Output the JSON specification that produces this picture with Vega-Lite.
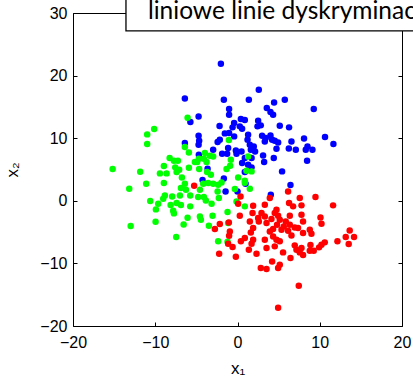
{
  "$schema": "https://vega.github.io/schema/vega-lite/v6.json",
  "width": 329,
  "height": 313,
  "autosize": {"type": "none"},
  "padding": {"left": 73, "top": 13, "right": 11, "bottom": 57},
  "config": {
    "view": {"stroke": "black", "strokeWidth": 1},
    "axis": {
      "grid": false,
      "domain": false,
      "labelFlush": false,
      "offset": -4,
      "tickColor": "black",
      "tickSize": 4,
      "tickWidth": 1,
      "labelFont": "Liberation Sans",
      "labelFontSize": 16,
      "labelColor": "black",
      "titleFont": "Liberation Sans",
      "titleFontSize": 17,
      "titleFontWeight": "normal",
      "titleColor": "black"
    }
  },
  "datasets": {
    "punkty": [
      {"x": -2.02, "y": 21.90, "k": "1"}, {"x": -6.40, "y": 16.36, "k": "1"}, {"x": -1.66, "y": 16.15, "k": "1"},
      {"x": 1.38, "y": 16.15, "k": "1"}, {"x": 2.59, "y": 17.75, "k": "1"}, {"x": 4.45, "y": 15.72, "k": "1"},
      {"x": 5.75, "y": 16.15, "k": "1"}, {"x": 3.56, "y": 14.82, "k": "1"}, {"x": 4.01, "y": 14.19, "k": "1"},
      {"x": 4.33, "y": 13.75, "k": "1"}, {"x": -1.02, "y": 14.66, "k": "1"}, {"x": -1.02, "y": 13.75, "k": "1"},
      {"x": 0.41, "y": 13.07, "k": "1"}, {"x": 0.89, "y": 12.91, "k": "1"}, {"x": -0.41, "y": 12.43, "k": "1"},
      {"x": -0.60, "y": 11.73, "k": "1"}, {"x": 0.28, "y": 11.89, "k": "1"}, {"x": 0.56, "y": 11.52, "k": "1"},
      {"x": -2.18, "y": 11.95, "k": "1"}, {"x": -4.73, "y": 13.48, "k": "1"}, {"x": -5.73, "y": 12.59, "k": "1"},
      {"x": 2.51, "y": 12.80, "k": "1"}, {"x": 2.83, "y": 12.05, "k": "1"}, {"x": 2.43, "y": 11.89, "k": "1"},
      {"x": 5.14, "y": 12.00, "k": "1"}, {"x": 6.27, "y": 11.73, "k": "1"}, {"x": 9.27, "y": 14.66, "k": "1"},
      {"x": -1.54, "y": 10.77, "k": "1"}, {"x": -1.02, "y": 10.83, "k": "1"}, {"x": -0.41, "y": 10.29, "k": "1"},
      {"x": 1.29, "y": 10.56, "k": "1"}, {"x": 1.22, "y": 9.76, "k": "1"}, {"x": -2.42, "y": 9.39, "k": "1"},
      {"x": -2.15, "y": 9.76, "k": "1"}, {"x": -4.73, "y": 10.40, "k": "1"}, {"x": -4.66, "y": 9.60, "k": "1"},
      {"x": -4.73, "y": 8.96, "k": "1"}, {"x": 2.99, "y": 10.40, "k": "1"}, {"x": 3.44, "y": 10.03, "k": "1"},
      {"x": 4.01, "y": 10.45, "k": "1"}, {"x": 4.21, "y": 9.76, "k": "1"}, {"x": 3.32, "y": 9.49, "k": "1"},
      {"x": 4.53, "y": 9.60, "k": "1"}, {"x": 4.94, "y": 9.33, "k": "1"}, {"x": 4.74, "y": 8.32, "k": "1"},
      {"x": 1.98, "y": 8.69, "k": "1"}, {"x": 1.50, "y": 8.96, "k": "1"}, {"x": 1.62, "y": 8.16, "k": "1"},
      {"x": 2.14, "y": 7.89, "k": "1"}, {"x": 0.49, "y": 7.89, "k": "1"}, {"x": -1.14, "y": 8.44, "k": "1"},
      {"x": -1.26, "y": 7.52, "k": "1"}, {"x": -1.87, "y": 7.52, "k": "1"}, {"x": -0.20, "y": 8.05, "k": "1"},
      {"x": -0.12, "y": 7.52, "k": "1"}, {"x": -2.96, "y": 8.16, "k": "1"}, {"x": -4.70, "y": 7.36, "k": "1"},
      {"x": 0.89, "y": 6.84, "k": "1"}, {"x": 1.71, "y": 6.84, "k": "1"}, {"x": 3.11, "y": 7.25, "k": "1"},
      {"x": 3.24, "y": 6.20, "k": "1"}, {"x": 1.29, "y": 5.77, "k": "1"}, {"x": 0.56, "y": 6.04, "k": "1"},
      {"x": 1.71, "y": 5.34, "k": "1"}, {"x": -3.64, "y": 5.13, "k": "1"}, {"x": 0.89, "y": 4.60, "k": "1"},
      {"x": -1.66, "y": 3.58, "k": "1"}, {"x": 5.42, "y": 4.70, "k": "1"}, {"x": 6.56, "y": 9.49, "k": "1"},
      {"x": 8.09, "y": 9.97, "k": "1"}, {"x": 10.64, "y": 10.19, "k": "1"}, {"x": 11.66, "y": 9.07, "k": "1"},
      {"x": 6.24, "y": 8.37, "k": "1"}, {"x": 7.09, "y": 8.16, "k": "1"}, {"x": 8.30, "y": 8.16, "k": "1"},
      {"x": 8.51, "y": 8.69, "k": "1"}, {"x": 9.11, "y": 8.16, "k": "1"}, {"x": 4.41, "y": 6.84, "k": "1"},
      {"x": 8.46, "y": 6.41, "k": "1"}, {"x": 6.44, "y": 2.52, "k": "1"}, {"x": -6.40, "y": 9.23, "k": "1"},
      {"x": -1.45, "y": 1.50, "k": "1"}, {"x": 0.00, "y": 1.50, "k": "1"}, {"x": 0.98, "y": 2.73, "k": "1"},
      {"x": 4.05, "y": 0.98, "k": "1"}, {"x": -4.25, "y": 3.32, "k": "1"},

      {"x": -6.07, "y": 13.28, "k": "2"}, {"x": -10.13, "y": 11.47, "k": "2"}, {"x": -10.98, "y": 10.61, "k": "2"},
      {"x": -10.98, "y": 9.07, "k": "2"}, {"x": -6.40, "y": 8.59, "k": "2"}, {"x": -5.91, "y": 7.73, "k": "2"},
      {"x": -8.25, "y": 6.84, "k": "2"}, {"x": -7.73, "y": 6.41, "k": "2"}, {"x": -7.25, "y": 6.41, "k": "2"},
      {"x": -8.95, "y": 5.56, "k": "2"}, {"x": -7.57, "y": 5.34, "k": "2"}, {"x": -7.09, "y": 4.97, "k": "2"},
      {"x": -7.40, "y": 4.60, "k": "2"}, {"x": -5.91, "y": 5.29, "k": "2"}, {"x": -15.18, "y": 5.08, "k": "2"},
      {"x": -11.83, "y": 4.65, "k": "2"}, {"x": -9.43, "y": 4.38, "k": "2"}, {"x": -8.62, "y": 4.38, "k": "2"},
      {"x": -6.76, "y": 3.74, "k": "2"}, {"x": -5.18, "y": 6.20, "k": "2"}, {"x": -11.10, "y": 2.73, "k": "2"},
      {"x": -8.95, "y": 2.84, "k": "2"}, {"x": -6.40, "y": 2.73, "k": "2"}, {"x": -1.05, "y": 9.71, "k": "2"},
      {"x": -3.97, "y": 7.64, "k": "2"}, {"x": -3.36, "y": 7.20, "k": "2"}, {"x": -2.96, "y": 7.09, "k": "2"},
      {"x": -4.70, "y": 6.73, "k": "2"}, {"x": -4.09, "y": 6.73, "k": "2"}, {"x": -4.90, "y": 6.20, "k": "2"},
      {"x": -3.76, "y": 6.20, "k": "2"}, {"x": 1.29, "y": 7.09, "k": "2"}, {"x": -0.81, "y": 6.57, "k": "2"},
      {"x": -0.89, "y": 5.61, "k": "2"}, {"x": -1.33, "y": 5.08, "k": "2"}, {"x": -4.66, "y": 5.08, "k": "2"},
      {"x": -3.69, "y": 4.60, "k": "2"}, {"x": -3.24, "y": 4.17, "k": "2"}, {"x": 1.10, "y": 4.81, "k": "2"},
      {"x": 1.71, "y": 4.70, "k": "2"}, {"x": 0.08, "y": 3.74, "k": "2"}, {"x": 0.89, "y": 3.21, "k": "2"},
      {"x": -13.16, "y": 1.93, "k": "2"}, {"x": -6.88, "y": 2.05, "k": "2"}, {"x": -6.27, "y": 1.77, "k": "2"},
      {"x": -5.75, "y": 0.86, "k": "2"}, {"x": -7.00, "y": 0.86, "k": "2"}, {"x": -7.94, "y": 0.70, "k": "2"},
      {"x": -8.83, "y": 0.86, "k": "2"}, {"x": -9.03, "y": 0.34, "k": "2"}, {"x": -10.61, "y": -0.03, "k": "2"},
      {"x": -9.64, "y": -0.46, "k": "2"}, {"x": -9.92, "y": -1.37, "k": "2"}, {"x": -8.13, "y": -0.67, "k": "2"},
      {"x": -7.40, "y": -0.35, "k": "2"}, {"x": -6.88, "y": -0.67, "k": "2"}, {"x": -7.82, "y": -1.58, "k": "2"},
      {"x": -7.73, "y": -2.01, "k": "2"}, {"x": -5.75, "y": -0.89, "k": "2"}, {"x": -6.07, "y": -2.70, "k": "2"},
      {"x": -6.55, "y": -3.77, "k": "2"}, {"x": -9.96, "y": -3.34, "k": "2"}, {"x": -12.99, "y": -4.02, "k": "2"},
      {"x": -7.45, "y": -5.78, "k": "2"}, {"x": -4.17, "y": 2.73, "k": "2"}, {"x": -3.57, "y": 2.84, "k": "2"},
      {"x": -2.96, "y": 2.73, "k": "2"}, {"x": -2.35, "y": 2.57, "k": "2"}, {"x": -1.94, "y": 2.94, "k": "2"},
      {"x": -2.42, "y": 1.50, "k": "2"}, {"x": -4.57, "y": 1.77, "k": "2"}, {"x": -4.78, "y": 0.61, "k": "2"},
      {"x": -4.09, "y": 0.61, "k": "2"}, {"x": -3.85, "y": 0.06, "k": "2"}, {"x": -3.15, "y": -0.46, "k": "2"},
      {"x": -2.27, "y": 0.45, "k": "2"}, {"x": -0.32, "y": 1.89, "k": "2"}, {"x": 0.89, "y": 2.89, "k": "2"},
      {"x": 1.50, "y": 1.93, "k": "2"}, {"x": -0.12, "y": -0.10, "k": "2"}, {"x": 0.89, "y": -0.89, "k": "2"},
      {"x": -1.21, "y": -1.79, "k": "2"}, {"x": -3.03, "y": -2.38, "k": "2"}, {"x": -4.57, "y": -2.49, "k": "2"},
      {"x": -3.48, "y": -3.98, "k": "2"}, {"x": -1.14, "y": -3.55, "k": "2"}, {"x": -2.35, "y": -6.48, "k": "2"},
      {"x": -1.21, "y": -6.53, "k": "2"}, {"x": -4.45, "y": -3.02, "k": "2"},

      {"x": -5.27, "y": 2.41, "k": "3"}, {"x": 0.37, "y": 0.70, "k": "3"}, {"x": 0.08, "y": -0.46, "k": "3"},
      {"x": 3.93, "y": 0.45, "k": "3"}, {"x": 1.90, "y": -0.78, "k": "3"}, {"x": 3.32, "y": -0.62, "k": "3"},
      {"x": 1.83, "y": -1.95, "k": "3"}, {"x": 2.92, "y": -1.95, "k": "3"}, {"x": 3.32, "y": -2.49, "k": "3"},
      {"x": 1.50, "y": -3.29, "k": "3"}, {"x": 2.59, "y": -3.29, "k": "3"}, {"x": 3.53, "y": -3.55, "k": "3"},
      {"x": 4.13, "y": -2.91, "k": "3"}, {"x": 4.53, "y": -1.95, "k": "3"}, {"x": -2.15, "y": -3.71, "k": "3"},
      {"x": -1.05, "y": -3.45, "k": "3"}, {"x": -2.75, "y": -4.50, "k": "3"}, {"x": -0.93, "y": -4.89, "k": "3"},
      {"x": 1.90, "y": -4.34, "k": "3"}, {"x": 1.62, "y": -5.05, "k": "3"}, {"x": 4.33, "y": -4.50, "k": "3"},
      {"x": 4.33, "y": -5.69, "k": "3"}, {"x": 4.74, "y": -6.21, "k": "3"}, {"x": -1.02, "y": -5.57, "k": "3"},
      {"x": -1.14, "y": -6.85, "k": "3"}, {"x": -0.60, "y": -7.38, "k": "3"}, {"x": 0.89, "y": -5.94, "k": "3"},
      {"x": 0.41, "y": -6.48, "k": "3"}, {"x": 1.71, "y": -6.85, "k": "3"}, {"x": 1.38, "y": -7.81, "k": "3"},
      {"x": 3.53, "y": -7.54, "k": "3"}, {"x": 2.31, "y": -8.45, "k": "3"}, {"x": -2.23, "y": -8.45, "k": "3"},
      {"x": -0.20, "y": -8.93, "k": "3"}, {"x": 4.21, "y": -9.68, "k": "3"}, {"x": 2.83, "y": -10.73, "k": "3"},
      {"x": 3.53, "y": -10.89, "k": "3"}, {"x": 4.94, "y": -10.73, "k": "3"}, {"x": 4.94, "y": -17.08, "k": "3"},
      {"x": 6.15, "y": 1.50, "k": "3"}, {"x": 7.57, "y": 0.45, "k": "3"}, {"x": 9.48, "y": 0.61, "k": "3"},
      {"x": 11.62, "y": -0.73, "k": "3"}, {"x": 6.27, "y": -0.35, "k": "3"}, {"x": 6.76, "y": -0.89, "k": "3"},
      {"x": 7.78, "y": -0.73, "k": "3"}, {"x": 6.36, "y": -2.38, "k": "3"}, {"x": 7.78, "y": -2.22, "k": "3"},
      {"x": 10.09, "y": -2.65, "k": "3"}, {"x": 5.14, "y": -3.02, "k": "3"}, {"x": 5.87, "y": -3.29, "k": "3"},
      {"x": 7.97, "y": -3.29, "k": "3"}, {"x": 10.21, "y": -3.66, "k": "3"}, {"x": 4.81, "y": -3.82, "k": "3"},
      {"x": 5.63, "y": -4.09, "k": "3"}, {"x": 6.36, "y": -3.82, "k": "3"}, {"x": 6.96, "y": -4.25, "k": "3"},
      {"x": 7.36, "y": -4.34, "k": "3"}, {"x": 5.35, "y": -4.62, "k": "3"}, {"x": 6.15, "y": -4.78, "k": "3"},
      {"x": 8.79, "y": -4.62, "k": "3"}, {"x": 8.99, "y": -5.25, "k": "3"}, {"x": 6.56, "y": -5.53, "k": "3"},
      {"x": 13.64, "y": -4.73, "k": "3"}, {"x": 13.16, "y": -5.78, "k": "3"}, {"x": 14.17, "y": -5.78, "k": "3"},
      {"x": 13.52, "y": -6.90, "k": "3"}, {"x": 12.15, "y": -6.48, "k": "3"}, {"x": 10.61, "y": -6.64, "k": "3"},
      {"x": 10.21, "y": -7.01, "k": "3"}, {"x": 9.92, "y": -7.44, "k": "3"}, {"x": 8.87, "y": -7.06, "k": "3"},
      {"x": 8.79, "y": -7.97, "k": "3"}, {"x": 9.27, "y": -7.97, "k": "3"}, {"x": 6.96, "y": -7.12, "k": "3"},
      {"x": 7.17, "y": -7.81, "k": "3"}, {"x": 7.78, "y": -7.54, "k": "3"}, {"x": 7.57, "y": -8.24, "k": "3"},
      {"x": 7.97, "y": -8.66, "k": "3"}, {"x": 5.54, "y": -8.24, "k": "3"}, {"x": 6.44, "y": -9.14, "k": "3"},
      {"x": 5.14, "y": -10.21, "k": "3"}, {"x": 7.45, "y": -13.56, "k": "3"}, {"x": 4.94, "y": -2.38, "k": "3"},
      {"x": 4.74, "y": -1.42, "k": "3"}, {"x": 3.93, "y": -4.89, "k": "3"}, {"x": 3.32, "y": -6.21, "k": "3"},
      {"x": 5.14, "y": -6.48, "k": "3"}, {"x": 7.97, "y": -5.14, "k": "3"}, {"x": 1.90, "y": -6.21, "k": "3"},
      {"x": 4.53, "y": -7.28, "k": "3"}, {"x": 0.28, "y": -2.38, "k": "3"}, {"x": 2.51, "y": -2.75, "k": "3"}
    ],
    "opis": [{"tytul": "liniowe linie dyskryminacyjne"}]
  },
  "layer": [
    {
      "data": {"name": "punkty"},
      "mark": {"type": "circle", "size": 42, "opacity": 1},
      "encoding": {
        "x": {
          "field": "x", "type": "quantitative",
          "scale": {"domain": [-20, 20], "nice": false, "zero": false},
          "axis": {"orient": "bottom", "values": [-20, -10, 0, 10, 20], "labelPadding": 8, "title": "x₁", "titlePadding": 10}
        },
        "y": {
          "field": "y", "type": "quantitative",
          "scale": {"domain": [-20, 30], "nice": false, "zero": false},
          "axis": {"orient": "left", "values": [-20, -10, 0, 10, 20, 30], "labelPadding": 6, "title": "x₂", "titlePadding": 18}
        },
        "color": {
          "field": "k", "type": "nominal",
          "scale": {"domain": ["1", "2", "3"], "range": ["#0000ff", "#00ff00", "#ff0000"]},
          "legend": null
        }
      }
    },
    {
      "data": {"name": "opis"},
      "mark": {"type": "rect", "fill": "white", "stroke": "black", "strokeWidth": 1.3},
      "encoding": {
        "x": {"datum": -13.56, "type": "quantitative",
          "axis": {"orient": "top", "values": [-20, -10, 0, 10, 20], "labels": false, "title": null}},
        "x2": {"datum": 26},
        "y": {"datum": 27.13, "type": "quantitative",
          "axis": {"orient": "right", "values": [-20, -10, 0, 10, 20, 30], "labels": false, "title": null}},
        "y2": {"datum": 34}
      }
    },
    {
      "data": {"name": "opis"},
      "mark": {"type": "text", "align": "left", "baseline": "alphabetic",
        "font": "Lato", "fontSize": 24.5, "color": "black"},
      "encoding": {
        "x": {"datum": -10.89, "type": "quantitative", "axis": null},
        "y": {"datum": 29.09, "type": "quantitative", "axis": null},
        "text": {"field": "tytul"}
      }
    }
  ],
  "resolve": {"axis": {"x": "independent", "y": "independent"}}
}
